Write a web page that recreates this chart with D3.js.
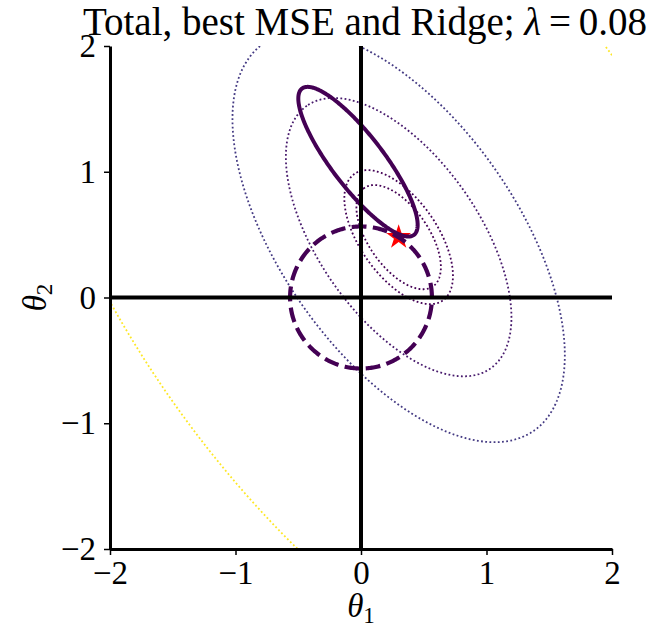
<!DOCTYPE html>
<html>
<head>
<meta charset="utf-8">
<script src="https://cdn.jsdelivr.net/npm/d3@7"></script>
<style>
  html, body { margin: 0; padding: 0; background: #fff; }
  svg { display: block; }
</style>
</head>
<body>
<script>
// Tick values on both axes
const xTicks = [-2, -1, 0, 1, 2];
const yTicks = [-2, -1, 0, 1, 2];

// Total loss (MSE + ridge): its minimum and the shape of its quadratic bowl
const totalMin = [0.30, 0.48];
const totalShape = [1.0, 0.5];      // relative semi-axes of a unit level
const totalAngleDeg = 125;          // direction of the long axis
// Dotted contour levels, as loss above the minimum
const totalLevels = [0.228, 0.377, 1.626, 3.53, 19.8];

// MSE contour that passes through the ridge solution
const mseCenter = [-0.024, 1.08];
const mseAxes = [0.733, 0.207];
const mseAngleDeg = 127.5;

// Ridge penalty contour through the same point
const ridgeRadius = 0.565;
const lambda = 0.08;

const W = 661, H = 637;
const plotLeft = 110, plotRight = 612, plotTop = 46, plotBottom = 549;

const x = d3.scaleLinear().domain([-2, 2]).range([plotLeft, plotRight]);
const y = d3.scaleLinear().domain([-2, 2]).range([plotBottom, plotTop]);

const svg = d3.select("body").append("svg")
  .attr("width", W).attr("height", H)
  .style("font-family", "'Liberation Serif', 'Times New Roman', serif");

svg.append("defs").append("clipPath").attr("id", "plot-clip")
  .append("rect").attr("x", plotLeft).attr("y", plotTop)
  .attr("width", plotRight - plotLeft).attr("height", plotBottom - plotTop);

const line = d3.line().x(d => x(d[0])).y(d => y(d[1]));

// Points on an ellipse in data space, starting at t = 0 and going counter-clockwise
function ellipsePoints(c, a, b, angleDeg, n = 360) {
  const th = angleDeg * Math.PI / 180;
  const ct = Math.cos(th), st = Math.sin(th);
  const pts = [];
  for (let i = 0; i <= n; i++) {
    const t = 2 * Math.PI * i / n;
    const u = a * Math.cos(t), v = b * Math.sin(t);
    pts.push([c[0] + u * ct - v * st, c[1] + u * st + v * ct]);
  }
  return pts;
}

const plot = svg.append("g").attr("clip-path", "url(#plot-clip)");

// Dotted contours of the total loss, coloured by level
const lvMin = d3.min(totalLevels), lvMax = d3.max(totalLevels);
const color = d3.scaleSequential(d3.interpolateViridis).domain([lvMin, lvMax]);
plot.selectAll("path.level")
  .data(totalLevels)
  .join("path")
  .attr("class", "level")
  .attr("d", lv => line(ellipsePoints(totalMin,
      Math.sqrt(lv) * totalShape[0], Math.sqrt(lv) * totalShape[1], totalAngleDeg)))
  .attr("fill", "none")
  .attr("stroke", lv => color(lv))
  .attr("stroke-width", 1.8)
  .attr("stroke-dasharray", "1.8,2.4");

// Ridge solution
plot.append("path")
  .attr("d", d3.symbol().type(d3.symbolStar).size(190)())
  .attr("transform", `translate(${x(totalMin[0])},${y(totalMin[1])})`)
  .attr("fill", "#ff0000");

const dark = d3.interpolateViridis(0);

// Best MSE contour (solid)
plot.append("path")
  .attr("d", line(ellipsePoints(mseCenter, mseAxes[0], mseAxes[1], mseAngleDeg)))
  .attr("fill", "none")
  .attr("stroke", dark)
  .attr("stroke-width", 4);

// Ridge penalty contour (dashed circle)
plot.append("path")
  .attr("d", line(ellipsePoints([0, 0], ridgeRadius, ridgeRadius, 0)))
  .attr("fill", "none")
  .attr("stroke", dark)
  .attr("stroke-width", 4.2)
  .attr("stroke-dasharray", "14.8,6.4");

// Coordinate axes through the origin
plot.append("line")
  .attr("x1", x(-2)).attr("x2", x(2)).attr("y1", y(0)).attr("y2", y(0))
  .attr("stroke", "#000").attr("stroke-width", 4);
plot.append("line")
  .attr("x1", x(0)).attr("x2", x(0)).attr("y1", y(-2)).attr("y2", y(2))
  .attr("stroke", "#000").attr("stroke-width", 4);

// Axes: left and bottom spines only
const fmt = d => d < 0 ? "\u2212" + Math.abs(d) : String(d);

const xAxis = svg.append("g")
  .attr("transform", `translate(0,${plotBottom})`)
  .call(d3.axisBottom(x).tickValues(xTicks).tickFormat(fmt).tickSizeInner(6).tickSizeOuter(0).tickPadding(6));
const yAxis = svg.append("g")
  .attr("transform", `translate(${plotLeft},0)`)
  .call(d3.axisLeft(y).tickValues(yTicks).tickFormat(fmt).tickSizeInner(6).tickSizeOuter(0).tickPadding(8));

[xAxis, yAxis].forEach(g => {
  g.select(".domain").attr("stroke", "#000").attr("stroke-width", 3);
  g.selectAll(".tick line").attr("stroke", "#000").attr("stroke-width", 1.5);
  g.selectAll(".tick text")
    .attr("fill", "#000")
    .style("font-family", "'Liberation Serif', 'Times New Roman', serif")
    .style("font-size", "33px");
});

// Axis labels
const xl = svg.append("text")
  .attr("x", x(0)).attr("y", 617)
  .attr("text-anchor", "middle")
  .style("font-size", "33px");
xl.append("tspan").style("font-style", "italic").text("\u03b8");
xl.append("tspan").attr("dy", 6).style("font-size", "23px").text("1");

const yl = svg.append("text")
  .attr("transform", `translate(46,${y(0)}) rotate(-90)`)
  .attr("text-anchor", "middle")
  .style("font-size", "33px");
yl.append("tspan").style("font-style", "italic").text("\u03b8");
yl.append("tspan").attr("dy", 6).style("font-size", "23px").text("2");

// Title
const title = svg.append("text")
  .attr("x", (plotLeft + plotRight) / 2 + 4).attr("y", 35)
  .attr("text-anchor", "middle")
  .style("font-size", "39px");
title.append("tspan").text("Total, best MSE and Ridge; ");
title.append("tspan").style("font-style", "italic").text("\u03bb");
title.append("tspan").text("\u2009=\u20090.08");
</script>
</body>
</html>
